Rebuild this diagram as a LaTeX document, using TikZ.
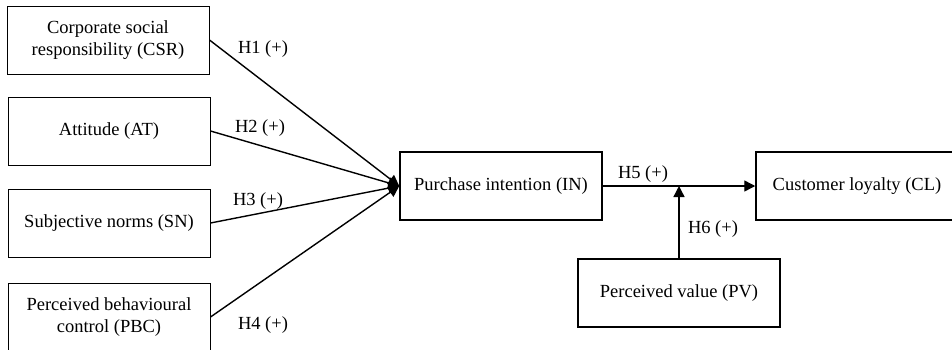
\documentclass[tikz,border=0pt]{standalone}
\usepackage{fontspec}
\setmainfont{Liberation Serif}
\usetikzlibrary{arrows.meta}
\begin{document}
\begin{tikzpicture}[x=1pt,y=-1pt,
  box/.style={draw,line width=1pt,minimum width=202pt,minimum height=68pt,inner sep=0pt,align=center,font=\fontsize{18.5}{22}\selectfont},
  boxb/.style={box,line width=1.5pt},
  lbl/.style={inner sep=0pt,font=\fontsize{18.5}{22}\selectfont},
  arr/.style={line width=1.4pt,-{Triangle[length=11pt,width=11pt]}}]
\useasboundingbox (0,0) rectangle (952,349);
\fill[white] (0,0) rectangle (952,349);
\node[box] (csr) at (108,40) {Corporate social\\responsibility (CSR)};
\node[box] (at) at (109,131) {Attitude (AT)};
\node[box] (sn) at (109,223) {Subjective norms (SN)};
\node[box] (pbc) at (109,317) {Perceived behavioural\\control (PBC)};
\node[boxb] (in) at (501,186) {Purchase intention (IN)};
\node[boxb] (cl) at (857,186) {Customer loyalty (CL)};
\node[boxb] (pv) at (679,293) {Perceived value (PV)};
\coordinate (j) at (679,186);
\draw[arr] (csr.east) -- (in.west);
\draw[arr] (at.east) -- (in.west);
\draw[arr] (sn.east) -- (in.west);
\draw[arr] (pbc.east) -- (in.west);
\draw[arr] (in.east) -- (cl.west);
\draw[arr] (pv.north) -- (j);
\node[lbl] (h1) at (263,49) {H1 (+)};
\node[lbl] (h2) at (260,128) {H2 (+)};
\node[lbl] (h3) at (258,201) {H3 (+)};
\node[lbl] (h4) at (263,325) {H4 (+)};
\node[lbl] (h5) at (643,174) {H5 (+)};
\node[lbl] (h6) at (713,229) {H6 (+)};
\end{tikzpicture}
\end{document}
